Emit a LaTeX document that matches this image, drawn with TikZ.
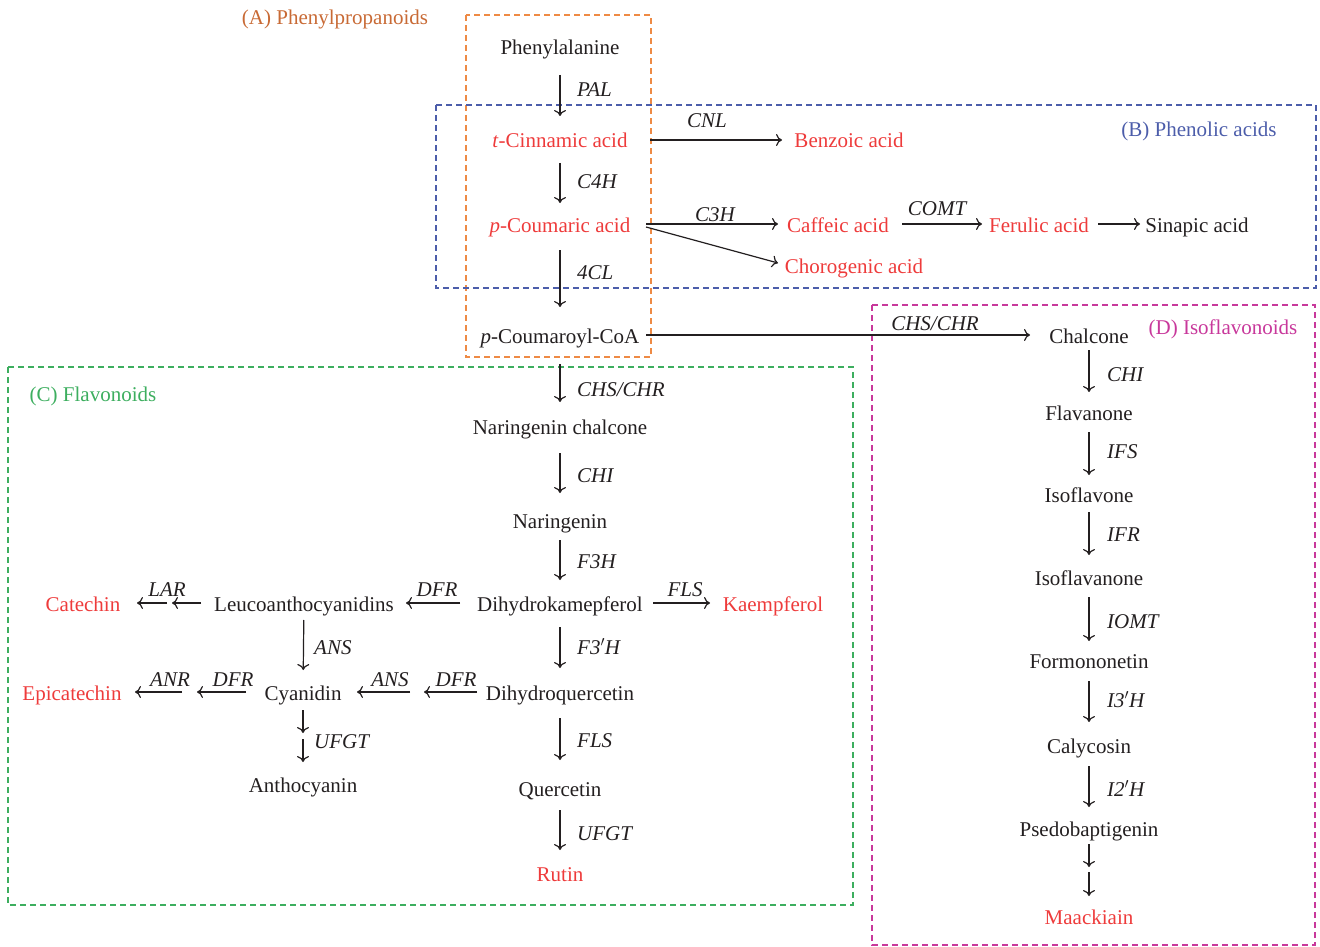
\documentclass[tikz,border=0pt]{standalone}
\usepackage{fontspec}
\setmainfont{Liberation Serif}
\usetikzlibrary{arrows.meta}
\definecolor{txt}{HTML}{231F20}
\definecolor{redt}{HTML}{EE3B3B}
\definecolor{orgbox}{HTML}{EE8A45}
\definecolor{orglab}{HTML}{C86A35}
\definecolor{bluec}{HTML}{4C5DAA}
\definecolor{greenc}{HTML}{3DAE5F}
\definecolor{magc}{HTML}{C8389B}
\tikzset{
  cmp/.style={inner sep=0pt, text height=17pt, text depth=1pt, text=txt, font=\fontsize{21}{24}\selectfont},
  rcmp/.style={cmp, text=redt},
  enz/.style={inner sep=0pt, text height=17pt, text depth=1pt, text=txt, font=\fontsize{21}{24}\selectfont\itshape},
  arr/.style={draw=txt, line width=1.2pt, -{To[length=6pt,width=12pt]}},
  grp/.style={line width=1.2pt, dash pattern=on 6pt off 4pt},
  glab/.style={inner sep=0pt, text height=17pt, text depth=1pt, font=\fontsize{21}{24}\selectfont},
}
\begin{document}
\begin{tikzpicture}[x=1pt,y=-1pt]
\useasboundingbox (0,0) rectangle (1320,947);
% group boxes
\draw[grp, draw=orgbox] (466,15) rectangle (651,357);
\draw[grp, draw=bluec] (436,105) rectangle (1316,288);
\draw[grp, draw=greenc] (8,367) rectangle (853,905);
\draw[grp, draw=magc] (872,305) rectangle (1315,945);
\node[glab, text=orglab] (labA) at (335,17) {(A) Phenylpropanoids};
\node[glab, text=bluec] (labB) at (1199,129) {(B) Phenolic acids};
\node[glab, text=greenc] (labC) at (93,393) {(C) Flavonoids};
\node[glab, text=magc] (labD) at (1223,326) {(D) Isoflavonoids};
% compounds
\node[cmp] (phe) at (560,47) {Phenylalanine};
\node[rcmp] (cin) at (560,140) {\textit{t}-Cinnamic acid};
\node[rcmp] (benz) at (849,140) {Benzoic acid};
\node[rcmp] (pcou) at (560,224) {\textit{p}-Coumaric acid};
\node[rcmp] (caf) at (838,224) {Caffeic acid};
\node[rcmp] (fer) at (1039,224) {Ferulic acid};
\node[cmp] (sin) at (1197,224) {Sinapic acid};
\node[rcmp] (chor) at (854,265) {Chorogenic acid};
\node[cmp] (coa) at (560,335) {\textit{p}-Coumaroyl-CoA};
\node[cmp] (chal) at (1089,335) {Chalcone};
\node[cmp] (nch) at (560,426) {Naringenin chalcone};
\node[cmp] (nar) at (560,520) {Naringenin};
\node[cmp] (dhk) at (560,603) {Dihydrokamepferol};
\node[rcmp] (kae) at (773,603) {Kaempferol};
\node[cmp] (leu) at (304,603) {Leucoanthocyanidins};
\node[rcmp] (cat) at (83,603) {Catechin};
\node[cmp] (cya) at (303,692) {Cyanidin};
\node[cmp] (dhq) at (560,692) {Dihydroquercetin};
\node[rcmp] (epi) at (72,692) {Epicatechin};
\node[cmp] (anth) at (303,784) {Anthocyanin};
\node[cmp] (que) at (560,788) {Quercetin};
\node[rcmp] (rut) at (560,873) {Rutin};
\node[cmp] (flav) at (1089,412) {Flavanone};
\node[cmp] (isof) at (1089,494) {Isoflavone};
\node[cmp] (isofn) at (1089,577) {Isoflavanone};
\node[cmp] (form) at (1089,660) {Formononetin};
\node[cmp] (caly) at (1089,745) {Calycosin};
\node[cmp] (pse) at (1089,828) {Psedobaptigenin};
\node[rcmp] (maa) at (1089,916) {Maackiain};
% helper coordinates for split arrows
\coordinate (pmid) at (1089,869.5);
\coordinate (lmid) at (169.5,603);
\coordinate (qmid) at (417,692);
\coordinate (cmid) at (189.5,692);
\coordinate (amid) at (303,736);
% main vertical chain
\draw[arr, shorten <=28pt, shorten >=24pt] (phe.center) -- (cin.center);
\draw[arr, shorten <=23pt, shorten >=21pt] (cin.center) -- (pcou.center);
\draw[arr, shorten <=26pt, shorten >=28pt] (pcou.center) -- (coa.center);
\draw[arr, shorten <=29pt, shorten >=24pt] (coa.center) -- (nch.center);
\draw[arr, shorten <=27pt, shorten >=27pt] (nch.center) -- (nar.center);
\draw[arr, shorten <=20pt, shorten >=23pt] (nar.center) -- (dhk.center);
\draw[arr, shorten <=24pt, shorten >=24pt] (dhk.center) -- (dhq.center);
\draw[arr, shorten <=26pt, shorten >=28pt] (dhq.center) -- (que.center);
\draw[arr, shorten <=22pt, shorten >=23pt] (que.center) -- (rut.center);
\node[enz, anchor=west] (ePAL) at (577,89) {PAL};
\node[enz, anchor=west] (eC4H) at (577,180) {C4H};
\node[enz, anchor=west] (e4CL) at (577,271) {4CL};
\node[enz, anchor=west] (eCHS) at (577,388) {CHS/CHR};
\node[enz, anchor=west] (eCHI) at (577,474) {CHI};
\node[enz, anchor=west] (eF3H) at (577,560) {F3H};
\node[enz, anchor=west] (eF3pH) at (577,646) {F3$'$H};
\node[enz, anchor=west] (eFLS) at (577,739) {FLS};
\node[enz, anchor=west] (eUFGT) at (577,832) {UFGT};
% phenolic acids
\draw[arr, shorten <=90pt, shorten >=67pt] (cin.center) -- (benz.center);
\node[enz] (eCNL) at (707,120) {CNL};
\draw[arr, shorten <=86pt, shorten >=60pt] (pcou.center) -- (caf.center);
\node[enz] (eC3H) at (715,213) {C3H};
\draw[arr] ([shift={(86,3)}]pcou.center) -- ([shift={(-76,-2)}]chor.center);
\draw[arr, shorten <=64pt, shorten >=57pt] (caf.center) -- (fer.center);
\node[enz] (eCOMT) at (937,207) {COMT};
\draw[arr, shorten <=59pt, shorten >=57pt] (fer.center) -- (sin.center);
% to chalcone
\draw[arr, shorten <=86pt, shorten >=59pt] (coa.center) -- (chal.center);
\node[enz] (eCHS2) at (935,322) {CHS/CHR};
% isoflavonoids
\draw[arr, shorten <=15pt, shorten >=20pt] (chal.center) -- (flav.center);
\draw[arr, shorten <=20pt, shorten >=19pt] (flav.center) -- (isof.center);
\draw[arr, shorten <=18pt, shorten >=22pt] (isof.center) -- (isofn.center);
\draw[arr, shorten <=20pt, shorten >=19pt] (isofn.center) -- (form.center);
\draw[arr, shorten <=21pt, shorten >=23pt] (form.center) -- (caly.center);
\draw[arr, shorten <=21pt, shorten >=21pt] (caly.center) -- (pse.center);
\draw[arr, shorten <=16pt, shorten >=2.5pt] (pse.center) -- (pmid);
\draw[arr, shorten <=2.5pt, shorten >=20pt] (pmid) -- (maa.center);
\node[enz, anchor=west] (eCHI2) at (1107,373) {CHI};
\node[enz, anchor=west] (eIFS) at (1107,450) {IFS};
\node[enz, anchor=west] (eIFR) at (1107,533) {IFR};
\node[enz, anchor=west] (eIOMT) at (1107,620) {IOMT};
\node[enz, anchor=west] (eI3H) at (1107,699) {I3$'$H};
\node[enz, anchor=west] (eI2H) at (1107,788) {I2$'$H};
% flavonoid side branches
\draw[arr, shorten <=100pt, shorten >=102pt] (dhk.center) -- (leu.center);
\node[enz] (eDFR1) at (437,588) {DFR};
\draw[arr, shorten <=93pt, shorten >=63pt] (dhk.center) -- (kae.center);
\node[enz] (eFLS2) at (685,588) {FLS};
\draw[arr, shorten <=103pt, shorten >=2.5pt] (leu.center) -- (lmid);
\draw[arr, shorten <=2.5pt, shorten >=54pt] (lmid) -- (cat.center);
\node[enz] (eLAR) at (167,588) {LAR};
\draw[arr, shorten <=17pt, shorten >=22pt] (leu.center) -- (cya.center);
\node[enz, anchor=west] (eANS1) at (314,646) {ANS};
\draw[arr, shorten <=83pt, shorten >=7pt] (dhq.center) -- (qmid);
\draw[arr, shorten <=7pt, shorten >=54pt] (qmid) -- (cya.center);
\node[enz] (eDFR2) at (456,678) {DFR};
\node[enz] (eANS2) at (390,678) {ANS};
\draw[arr, shorten <=57pt, shorten >=7.5pt] (cya.center) -- (cmid);
\draw[arr, shorten <=7.5pt, shorten >=63pt] (cmid) -- (epi.center);
\node[enz] (eDFR3) at (233,678) {DFR};
\node[enz] (eANR) at (170,678) {ANR};
\draw[arr, shorten <=18pt, shorten >=3pt] (cya.center) -- (amid);
\draw[arr, shorten <=3pt, shorten >=22pt] (amid) -- (anth.center);
\node[enz, anchor=west] (eUFGT2) at (314,740) {UFGT};
\end{tikzpicture}
\end{document}
